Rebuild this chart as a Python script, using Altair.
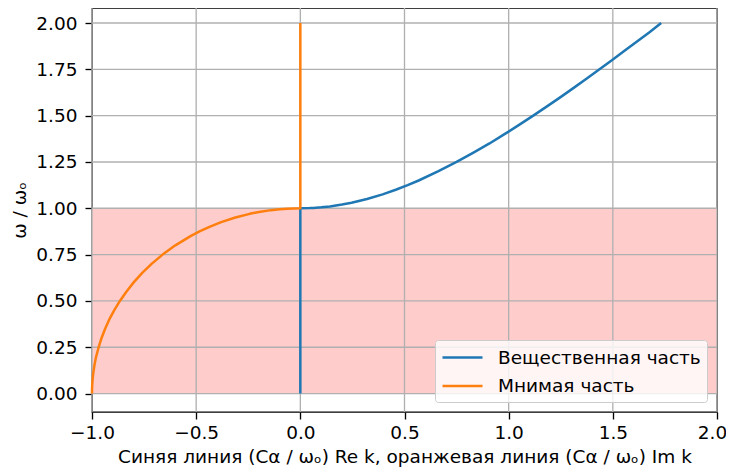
import altair as alt
import pandas as pd

# --- data ---
series_names = ["Вещественная часть", "Мнимая часть"]
series_colors = ["#1f77b4", "#ff7f0e"]

# blue: Re k (x) against omega (y)
blue_w = [0.0, 0.25, 0.5, 0.75, 1.0, 1.001, 1.002, 1.005, 1.01, 1.02, 1.03, 1.05, 1.075, 1.1,
          1.125, 1.15, 1.2, 1.25, 1.3, 1.35, 1.4, 1.45, 1.5, 1.55, 1.6, 1.65, 1.7, 1.75,
          1.8, 1.85, 1.9, 1.95, 2.0]
blue_re = [0.0, 0.0, 0.0, 0.0, 0.0, 0.045, 0.063, 0.1, 0.142, 0.2, 0.246, 0.32, 0.395, 0.458,
           0.515, 0.568, 0.663, 0.75, 0.831, 0.908, 0.98, 1.05, 1.118, 1.184, 1.249, 1.312,
           1.375, 1.436, 1.497, 1.556, 1.616, 1.676, 1.732]

# orange: Im k (x) against omega (y)
orange_w = [0.0, 0.005, 0.01, 0.02, 0.03, 0.05, 0.075, 0.1, 0.125, 0.15, 0.175, 0.2, 0.25,
            0.3, 0.35, 0.4, 0.45, 0.5, 0.55, 0.6, 0.65, 0.7, 0.75, 0.8, 0.85, 0.875, 0.9,
            0.925, 0.95, 0.97, 0.98, 0.99, 0.995, 0.998, 1.0, 1.25, 1.5, 1.75, 2.0]
orange_im = [-1.0, -1.0, -0.99995, -0.9998, -0.99955, -0.9987, -0.9972, -0.995, -0.992,
             -0.9887, -0.9846, -0.98, -0.968, -0.954, -0.937, -0.917, -0.893, -0.866, -0.835,
             -0.8, -0.76, -0.714, -0.661, -0.6, -0.527, -0.484, -0.436, -0.38, -0.312,
             -0.243, -0.199, -0.141, -0.1, -0.063, 0.0, 0.0, 0.0, 0.0, 0.0]

# shaded band (omega from 0 to 1, across the whole x range)
band_x = [-1.0, 2.0]
band_w = [0.0, 1.0]

x_ticks = [-1.0, -0.5, 0.0, 0.5, 1.0, 1.5, 2.0]
y_ticks = [0.0, 0.25, 0.5, 0.75, 1.0, 1.25, 1.5, 1.75, 2.0]

x_domain = [-1.0, 2.0]
y_domain = [-0.0995, 2.081]

# --- tables ---
rows = []
for i, (w, r) in enumerate(zip(blue_w, blue_re)):
    rows.append({"s": series_names[0], "i": i, "x": r, "y": w})
for i, (w, m) in enumerate(zip(orange_w, orange_im)):
    rows.append({"s": series_names[1], "i": i, "x": m, "y": w})
lines_df = pd.DataFrame(rows)
band_df = pd.DataFrame({"x": [band_x[0]], "x2": [band_x[1]], "y": [band_w[0]], "y2": [band_w[1]]})
xt_df = pd.DataFrame({"x": x_ticks})
yt_df = pd.DataFrame({"y": y_ticks})

FONT = "DejaVu Sans"
FS = 18.5

xscale = alt.Scale(domain=x_domain, nice=False, zero=False)
yscale = alt.Scale(domain=y_domain, nice=False, zero=False)

x_axis = alt.Axis(
    values=x_ticks, grid=False, domain=False,
    labelExpr="replace(format(datum.value, '.1f'), '-', '\u2212')",
    labelOffset={"condition": {"test": "datum.value >= 2", "value": -5}, "value": 0},
    title="Синяя линия (Cα / ωₒ) Re k, оранжевая линия (Cα / ωₒ) Im k",
    tickColor="black", tickSize=7, tickWidth=1.33,
    labelColor="black", labelFont=FONT, labelFontSize=FS, labelPadding=4,
    titleColor="black", titleFont=FONT, titleFontSize=FS, titleFontWeight="normal",
    titlePadding=6, labelFlush=False,
)
y_axis = alt.Axis(
    values=y_ticks, grid=False, domain=False, format=".2f",
    title="ω / ωₒ",
    tickColor="black", tickSize=7, tickWidth=1.33,
    labelColor="black", labelFont=FONT, labelFontSize=FS, labelPadding=8,
    titleColor="black", titleFont=FONT, titleFontSize=FS, titleFontWeight="normal",
    titlePadding=6, labelFlush=False,
)

band = alt.Chart(band_df).mark_rect(color="#ffcccc", opacity=1).encode(
    x=alt.X("x:Q", scale=xscale, axis=x_axis),
    x2="x2:Q",
    y=alt.Y("y:Q", scale=yscale, axis=y_axis),
    y2="y2:Q",
)

vgrid = alt.Chart(xt_df).mark_rule(color="#b0b0b0", strokeWidth=1.33).encode(
    x=alt.X("x:Q", scale=xscale, axis=x_axis)
)
hgrid = alt.Chart(yt_df).mark_rule(color="#b0b0b0", strokeWidth=1.33).encode(
    y=alt.Y("y:Q", scale=yscale, axis=y_axis)
)

lines = alt.Chart(lines_df).mark_line(strokeWidth=2.5, strokeCap="butt", strokeJoin="round").encode(
    x=alt.X("x:Q", scale=xscale, axis=x_axis),
    y=alt.Y("y:Q", scale=yscale, axis=y_axis),
    order=alt.Order("i:Q"),
    color=alt.Color(
        "s:N",
        scale=alt.Scale(domain=series_names, range=series_colors),
        legend=alt.Legend(
            title=None, orient="none", legendX=343, legendY=332,
            symbolType="M-1,0H3", symbolSize=400, symbolStrokeWidth=2.5,
            symbolFillColor="transparent",
            labelFont=FONT, labelFontSize=FS, labelColor="black", labelOffset=34,
            labelLimit=0,
            fillColor="rgba(255,255,255,0.8)", strokeColor="#cccccc",
            cornerRadius=3, padding=6, rowPadding=7.5,
        ),
    ),
)

chart = alt.layer(band, vgrid, hgrid, lines).properties(
    width=625, height=404,
    autosize=alt.AutoSizeParams(type="none"),
    padding={"left": 84, "top": 0, "right": 9, "bottom": 58},
).configure_view(stroke="black", strokeWidth=1.33)

chart.save("out.html", embed_options={"renderer": "svg", "actions": False})
